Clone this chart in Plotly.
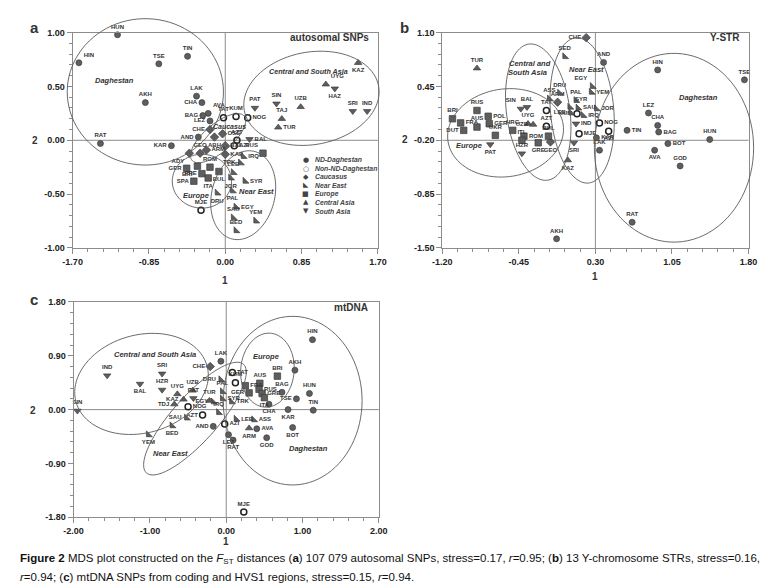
import math
import plotly.graph_objects as go

W, H = 770, 587

# ---------------- data ----------------
# Panel a: autosomal SNPs
a_labels = ["HUN","HIN","TSE","TIN","AKH","LAK","CHA","AVA","BAG","LEZ","RAT","AND","KAR",
            "TAT","KUM","NOG","AZT","AZI","MJE",
            "CHE","GEO","ADY","ABH","ARM","BAL","OSS","KAB",
            "IRQ","TRK","LEB","JOR","SYR","PAL","DRU","EGY","SAU","YEM","BED",
            "GER","BRI","ROM","FRE","SPA","ITA","BUL","RUS",
            "KAZ","UYG","UZB","TAJ","TUR",
            "HAZ","SRI","IND","SIN","PAT","BAL"]
a_x = [-1.20,-1.63,-0.74,-0.42,-0.89,-0.32,-0.26,-0.19,-0.25,-0.17,-1.39,-0.30,-0.60,
       -0.02,0.12,0.25,0.13,0.10,-0.27,
       -0.17,-0.28,-0.40,-0.12,-0.21,0.00,-0.03,0.00,
       0.20,0.17,0.09,0.06,0.22,0.08,-0.09,0.12,0.09,0.34,0.12,
       -0.43,-0.31,-0.17,-0.26,-0.35,-0.19,-0.07,0.42,
       1.48,1.12,0.84,0.63,0.59,
       1.22,1.42,1.58,0.57,0.33,0.27]
a_y = [0.98,0.72,0.71,0.78,0.35,0.41,0.35,0.25,0.23,0.18,-0.03,0.03,-0.05,
       0.21,0.22,0.21,0.00,-0.05,-0.65,
       0.10,-0.12,-0.12,0.03,-0.09,-0.05,0.06,-0.13,
       -0.15,-0.21,-0.30,-0.35,-0.38,-0.47,-0.49,-0.62,-0.72,-0.75,-0.84,
       -0.26,-0.24,-0.25,-0.31,-0.38,-0.35,-0.29,-0.12,
       0.72,0.52,0.31,0.20,0.12,
       0.48,0.27,0.27,0.34,0.30,0.01]
a_grp = ["ND"]*13 + ["NonND"]*6 + ["CAU"]*8 + ["NE"]*11 + ["EUR"]*8 + ["CA"]*5 + ["SA"]*6

# Panel b: Y-STR
b_labels = ["AND","HIN","TSE","LEZ","CHA","BAG","TIN","KAR","HUN","BOT","AVA","GOD","LAK","RAT","AKH",
            "TAT","AZT","KUM","NOG","AZI","MJE",
            "CHE","ARM","GEO",
            "SED","EGY","YEM","DRU","ASS","PAL","SYR","SAU","JOR","LEB","IRQ",
            "RUS","POL","BRI","FRA","GER","AUS","DUT","UKR","HRG","ROM","ITL","BUL","GRE",
            "TUR","UYG","UZB","KAZ",
            "SIN","BAL","PAT","HZR","SRI","IND"]
b_x = [0.38,0.91,1.76,0.82,0.91,0.92,0.61,0.31,1.42,1.01,0.88,1.13,0.34,0.66,-0.08,
       -0.18,-0.18,0.12,0.34,0.43,0.14,
       0.21,-0.07,-0.14,
       0.00,0.27,0.26,-0.05,-0.15,0.11,0.05,0.13,0.31,0.06,0.18,
       -0.86,-0.75,-1.10,-1.02,-0.74,-0.86,-0.99,-0.68,-0.51,-0.40,-0.42,-0.16,-0.26,
       -0.86,-0.36,-0.31,0.03,
       -0.43,-0.37,-0.73,-0.42,0.09,0.11]
b_y = [0.74,0.65,0.53,0.13,-0.02,-0.10,-0.08,-0.17,-0.19,-0.24,-0.32,-0.51,-0.32,-1.19,-1.39,
       0.16,-0.03,0.12,0.01,-0.09,-0.12,
       1.04,0.26,-0.22,
       0.81,0.45,0.38,0.37,0.30,0.28,0.20,0.19,0.18,0.13,0.10,
       0.16,0.09,0.06,0.01,0.00,-0.04,-0.08,-0.14,-0.08,-0.15,-0.20,-0.15,-0.23,
       0.67,0.00,-0.01,-0.44,
       0.18,0.20,-0.25,-0.36,-0.23,0.00]
b_grp = ["ND"]*15 + ["NonND"]*6 + ["CAU"]*3 + ["NE"]*11 + ["EUR"]*13 + ["CA"]*4 + ["SA"]*6

# Panel c: mtDNA
c_labels = ["HIN","AKH","HUN","TSE","BAG","TIN","CHA","KAR","LAK","AND","LEZ","RAT","AVA","GOD","BOT",
            "TAT","KUM","AZT","AZI","MJE","NOG",
            "CHE",
            "DRU","PAL","SYR","EGY","TRK","IRQ","LEB","ASS","SAU","BED","YEM",
            "BRI","FRA","AUS","RUS","GRE","ITA","GER",
            "UYG","UZB","KAZ","TDJ","TUR","ARM",
            "IND","SRI","BAL","HZR","PAT","SIN"]
c_x = [1.13,0.90,1.09,0.92,0.73,1.14,0.56,0.81,-0.07,-0.17,0.03,0.09,0.40,0.53,0.87,
       0.08,0.12,-0.31,-0.02,0.23,-0.50,
       -0.21,
       -0.07,-0.05,-0.05,-0.17,0.07,-0.10,0.13,0.36,-0.52,-0.71,-1.02,
       0.67,0.25,0.44,0.43,0.47,0.50,0.30,
       -0.64,-0.44,-0.56,-0.68,-0.22,0.30,
       -1.56,-0.84,-1.13,-0.84,-0.43,-1.95]
c_y = [1.17,0.66,0.27,0.18,0.29,-0.01,0.09,0.00,0.81,-0.28,-0.42,-0.51,-0.32,-0.47,-0.30,
       0.62,0.45,-0.09,-0.24,-1.71,0.05,
       0.72,
       0.50,0.30,0.18,0.13,0.13,-0.05,-0.16,-0.17,-0.14,-0.27,-0.42,
       0.56,0.40,0.44,0.34,0.27,0.20,0.28,
       0.26,0.32,0.17,0.09,0.15,-0.31,
       0.57,0.60,0.43,0.33,0.19,-0.02]
c_grp = ["ND"]*15 + ["NonND"]*6 + ["CAU"]*1 + ["NE"]*11 + ["EUR"]*7 + ["CA"]*6 + ["SA"]*6

group_names = ["ND-Daghestan","Non-ND-Daghestan","Caucasus","Near East","Europe","Central Asia","South Asia"]
group_keys = ["ND","NonND","CAU","NE","EUR","CA","SA"]

# ---------------- styling ----------------
SYM = {"ND":"circle","NonND":"circle-open","CAU":"diamond","NE":"triangle-sw",
       "EUR":"square","CA":"triangle-up","SA":"triangle-down"}
GLYPH = {"ND":"●","NonND":"○","CAU":"◆","NE":"◣","EUR":"■","CA":"▲","SA":"▼"}
FILL = "#5e5e5e"
EDGE = "#3c3c3c"
AX = "#8c8c8c"
TXT = "#333333"
FONT = "Arial, Liberation Sans, sans-serif"

# label placement (style only): (label, group) -> textposition
R, L, B, T = "middle right", "middle left", "bottom center", "top center"
label_pos = {
    "a": {("HIN","ND"): "top right", ("KAR","ND"): L, ("AND","ND"): L, ("CHA","ND"): L, ("AVA","ND"): "top right",
          ("BAG","ND"): L, ("LEZ","ND"): L, ("CHE","CAU"): L, ("KAZ","CA"): B, ("UYG","CA"): "top right",
          ("HAZ","SA"): B, ("TUR","CA"): R, ("NOG","NonND"): R, ("AZI","NonND"): R, ("BAL","SA"): R,
          ("RUS","EUR"): "top left", ("IRQ","NE"): R, ("TRK","NE"): L, ("SYR","NE"): R, ("JOR","NE"): B,
          ("PAL","NE"): B, ("DRU","NE"): B, ("EGY","NE"): R, ("GER","EUR"): L, ("BRI","EUR"): "bottom left",
          ("FRE","EUR"): L, ("SPA","EUR"): L, ("ITA","EUR"): B, ("BUL","EUR"): B, ("ADY","CAU"): "bottom left",
          ("ARM","CAU"): R, ("ABH","CAU"): B, ("BAL","CAU"): R, ("KAB","CAU"): R, ("OSS","CAU"): R},
    "b": {("POL","EUR"): R, ("FRA","EUR"): R, ("GER","EUR"): R, ("DUT","EUR"): L, ("ROM","EUR"): R,
          ("SIN","SA"): "top left", ("TIN","ND"): R, ("BAG","ND"): R, ("BOT","ND"): R, ("KAR","ND"): R,
          ("AZI","NonND"): B, ("NOG","NonND"): R, ("MJE","NonND"): R, ("CHE","CAU"): L, ("AVA","ND"): B,
          ("PAT","SA"): B, ("SRI","SA"): B, ("KAZ","CA"): B, ("EGY","NE"): "top left", ("YEM","NE"): R,
          ("JOR","NE"): R, ("IRQ","NE"): R, ("IND","SA"): R, ("SYR","NE"): "top right", ("SAU","NE"): R,
          ("GRE","EUR"): B, ("UZB","CA"): L, ("LEB","NE"): L, ("KUM","NonND"): L, ("GEO","CAU"): B},
    "c": {("CHE","CAU"): L, ("TAT","NonND"): R, ("DRU","NE"): L, ("FRA","EUR"): R, ("TSE","ND"): L,
          ("CHA","ND"): B, ("KAR","ND"): B, ("BOT","ND"): B, ("GOD","ND"): B, ("AVA","ND"): R,
          ("ARM","CA"): B, ("ASS","NE"): R, ("LEB","NE"): R, ("RAT","ND"): B, ("LEZ","ND"): B,
          ("AND","ND"): L, ("AZI","NonND"): R, ("SAU","NE"): L, ("BED","NE"): B, ("YEM","NE"): B,
          ("BAL","SA"): B, ("KAZ","CA"): L, ("TDJ","CA"): L, ("TRK","NE"): R, ("SYR","NE"): R,
          ("EGY","NE"): L, ("RUS","EUR"): R, ("GRE","EUR"): R, ("ITA","EUR"): B, ("GER","EUR"): L,
          ("AZT","NonND"): L, ("NOG","NonND"): R},
}

panels = {
    "a": dict(xd=(56/W, 369/W), yd=(1-239/H, 1-20/H), xr=(-1.70, 1.70), yr=(-1.00, 1.00),
              xmaj=[-1.70,-0.85,0.00,0.85,1.70], xmin=0.17, ymaj=[-1.0,-0.5,0.0,0.5,1.0], ymin=0.1,
              cross=(0.0, 0.0), ax="", data=(a_labels, a_x, a_y, a_grp)),
    "b": dict(xd=(435/W, 749/W), yd=(1-239/H, 1-20/H), xr=(-1.20, 1.80), yr=(-1.50, 1.10),
              xmaj=[-1.20,-0.45,0.30,1.05,1.80], xmin=0.15, ymaj=[-1.50,-0.85,-0.20,0.45,1.10], ymin=0.13,
              cross=(0.30, -0.20), ax="2", data=(b_labels, b_x, b_y, b_grp)),
    "c": dict(xd=(57/W, 370/W), yd=(1-513/H, 1-294/H), xr=(-2.0, 2.0), yr=(-1.80, 1.80),
              xmaj=[-2.0,-1.0,0.0,1.0,2.0], xmin=0.2, ymaj=[-1.8,-0.9,0.0,0.9,1.8], ymin=0.18,
              cross=(0.0, 0.0), ax="3", data=(c_labels, c_x, c_y, c_grp)),
}

# ellipses: (panel, cx, cy, rx (x-units), ry (y-units), angle deg CCW)
ellipses = [
    ("a", -0.89, 0.45, 0.87, 0.68, 0),
    ("a", 0.96, 0.39, 0.76, 0.43, 10),
    ("a", -0.08, 0.02, 0.38, 0.13, 40),
    ("a", -0.26, -0.38, 0.33, 0.25, 0),
    ("a", 0.20, -0.51, 0.35, 0.42, -15),
    ("b", -0.58, -0.11, 0.57, 0.53, 8),
    ("b", -0.26, 0.14, 0.31, 0.83, 8),
    ("b", 0.17, 0.16, 0.31, 0.88, 5),
    ("b", 1.07, -0.29, 0.78, 1.14, 0),
    ("c", -1.11, 0.43, 0.89, 0.82, 15),
    ("c", -0.41, -0.15, 0.95, 0.38, 48),
    ("c", 0.54, 0.66, 0.35, 0.62, -5),
    ("c", 0.87, 0.15, 0.91, 1.41, 0),
]


def fmt(v):
    return "%.2f" % v


def to_px(p, x, y):
    P = panels[p]
    fx = P["xd"][0] + (x - P["xr"][0]) / (P["xr"][1] - P["xr"][0]) * (P["xd"][1] - P["xd"][0])
    fy = P["yd"][0] + (y - P["yr"][0]) / (P["yr"][1] - P["yr"][0]) * (P["yd"][1] - P["yd"][0])
    return fx * W, fy * H


def scale(p):
    P = panels[p]
    sx = (P["xd"][1] - P["xd"][0]) * W / (P["xr"][1] - P["xr"][0])
    sy = (P["yd"][1] - P["yd"][0]) * H / (P["yr"][1] - P["yr"][0])
    return sx, sy


fig = go.Figure()
layout = dict(width=W, height=H, margin=dict(l=0, r=0, t=0, b=0),
              paper_bgcolor="white", plot_bgcolor="white", showlegend=False,
              font=dict(family=FONT, color=TXT))
shapes = []
annotations = []

for p, P in panels.items():
    ax = P["ax"]
    xa = "xaxis" + ax
    ya = "yaxis" + ax
    xr, yr = P["xr"], P["yr"]
    tickfont = dict(size=9, family=FONT, color="#222", weight="bold")
    layout[xa] = dict(domain=list(P["xd"]), range=list(xr), anchor="y" + ax,
                      tickmode="array", tickvals=P["xmaj"], ticktext=[fmt(v) for v in P["xmaj"]],
                      ticks="outside", ticklen=5, tickcolor=AX, showline=True, linecolor=AX, linewidth=1,
                      mirror=True, showgrid=False, zeroline=False, tickfont=tickfont,
                      minor=dict(tick0=xr[0], dtick=P["xmin"], ticks="outside", ticklen=3, tickcolor=AX, showgrid=False))
    layout[ya] = dict(domain=list(P["yd"]), range=list(yr), anchor="x" + ax,
                      tickmode="array", tickvals=P["ymaj"], ticktext=[fmt(v) for v in P["ymaj"]],
                      ticks="outside", ticklen=5, tickcolor=AX, showline=True, linecolor=AX, linewidth=1,
                      mirror=True, showgrid=False, zeroline=False, tickfont=tickfont,
                      minor=dict(tick0=yr[0], dtick=P["ymin"], ticks="outside", ticklen=3, tickcolor=AX, showgrid=False))
    cx, cy = P["cross"]
    xref = "x" + ax
    yref = "y" + ax
    shapes.append(dict(type="line", xref=xref, yref=yref + " domain", x0=cx, x1=cx, y0=0, y1=1,
                       line=dict(color=AX, width=1), layer="below"))
    shapes.append(dict(type="line", xref=xref + " domain", yref=yref, x0=0, x1=1, y0=cy, y1=cy,
                       line=dict(color=AX, width=1), layer="below"))

    labels, xs, ys, grps = P["data"]
    for g in group_keys:
        idx = [i for i, gg in enumerate(grps) if gg == g]
        if not idx:
            continue
        if g == "NonND":
            marker = dict(symbol=SYM[g], size=6, color="#222", line=dict(width=1.5, color="#222"))
        elif g == "ND":
            marker = dict(symbol=SYM[g], size=6, color=FILL, line=dict(width=0.7, color=EDGE))
        else:
            marker = dict(symbol=SYM[g], size=6.5, color=FILL, line=dict(width=0.7, color=EDGE))
        tpos = [label_pos[p].get((labels[i], g), T) for i in idx]
        fig.add_trace(go.Scatter(
            x=[xs[i] for i in idx], y=[ys[i] for i in idx], text=[labels[i] for i in idx],
            mode="markers+text", textposition=tpos,
            textfont=dict(size=6, color=TXT, family=FONT, weight="bold"),
            marker=marker, cliponaxis=False, xaxis=xref, yaxis=yref, hoverinfo="text"))

# ellipses (paper coordinates so they may overflow the frame like in the original)
for (p, ecx, ecy, rx, ry, ang) in ellipses:
    sx, sy = scale(p)
    X0, Y0 = to_px(p, ecx, ecy)
    a = math.radians(ang)
    pts = []
    n = 90
    for k in range(n):
        t = 2 * math.pi * k / n
        dx = rx * sx * math.cos(t)
        dy = ry * sy * math.sin(t)
        X = X0 + dx * math.cos(a) - dy * math.sin(a)
        Y = Y0 + dx * math.sin(a) + dy * math.cos(a)
        pts.append((X / W, Y / H))
    path = "M " + " L ".join("%.5f,%.5f" % q for q in pts) + " Z"
    shapes.append(dict(type="path", xref="paper", yref="paper", path=path,
                       line=dict(color="#5a5a5a", width=0.9), fillcolor="rgba(0,0,0,0)", layer="above"))


def ann(x, y, text, size=8, bold=True, italic=False, xanchor="center", color=TXT, family=None):
    f = dict(size=size, color=color, family=family or FONT)
    if bold:
        f["weight"] = "bold"
    if italic:
        f["style"] = "italic"
    annotations.append(dict(x=x / W, y=1 - y / H, xref="paper", yref="paper", text=text, showarrow=False,
                            font=f, xanchor=xanchor, yanchor="middle"))


# panel letters
ann(17, 15, "a", size=15)
ann(396, 15, "b", size=15)
ann(16, 291, "c", size=15)
# axis titles
ann(212, 272, "1", size=10)
ann(592, 268, "1", size=10)
ann(213, 538, "1", size=10)
ann(17, 130, "2", size=10)
ann(397, 129, "2", size=10)
ann(15, 404, "2", size=10)
# panel titles
ann(362, 25, "autosomal SNPs", size=10, xanchor="right")
ann(742, 25, "Y-STR", size=10, xanchor="right")
ann(361, 300, "mtDNA", size=10, xanchor="right")
# group labels a
ann(99, 69, "Daghestan", size=7.5, italic=True)
ann(298, 60, "Central and South Asia", size=7.2, italic=True)
ann(182, 186, "Europe", size=7.5, italic=True)
ann(245, 182, "Near East", size=7.5, italic=True)
ann(217, 115, "Caucasus", size=7, italic=True)
# group labels b
ann(525, 51, "Central and", size=7.5, italic=True)
ann(522, 61, "South Asia", size=7.5, italic=True)
ann(583, 57, "Near East", size=7.5, italic=True)
ann(462, 135, "Europe", size=7.5, italic=True)
ann(698, 86, "Daghestan", size=7.5, italic=True)
# group labels c
ann(140, 347, "Central and South Asia", size=7.5, italic=True)
ann(254, 349, "Europe", size=7.5, italic=True)
ann(156, 448, "Near East", size=7.5, italic=True)
ann(298, 443, "Daghestan", size=7.5, italic=True)

# legend (panel a)
leg_y = [149.3, 158.3, 166.7, 175.0, 184.0, 192.7, 201.7]
for g, name, yy in zip(group_keys, group_names, leg_y):
    ann(295, yy, GLYPH[g], size=7, bold=False, color="#444", family="DejaVu Sans")
    ann(302, yy, name, size=6.8, italic=True, xanchor="left", color="#444")

# caption
cap1 = ("<b>Figure 2</b> MDS plot constructed on the <i>F</i><sub>ST</sub> distances (<b>a</b>) 107 079 autosomal SNPs, "
        "stress=0.17, <i>r</i>=0.95; (<b>b</b>) 13 Y-chromosome STRs, stress=0.16,")
cap2 = "<i>r</i>=0.94; (<b>c</b>) mtDNA SNPs from coding and HVS1 regions, stress=0.15, <i>r</i>=0.94."
annotations.append(dict(x=0.0, y=1 - 555 / H, xref="paper", yref="paper", text=cap1, showarrow=False,
                        xanchor="left", yanchor="middle",
                        font=dict(size=11.5, color="#111", family=FONT)))
annotations.append(dict(x=0.0, y=1 - 574 / H, xref="paper", yref="paper", text=cap2, showarrow=False,
                        xanchor="left", yanchor="middle",
                        font=dict(size=11.5, color="#111", family=FONT)))

layout["shapes"] = shapes
layout["annotations"] = annotations
fig.update_layout(**layout)
fig.write_html("out.html")
